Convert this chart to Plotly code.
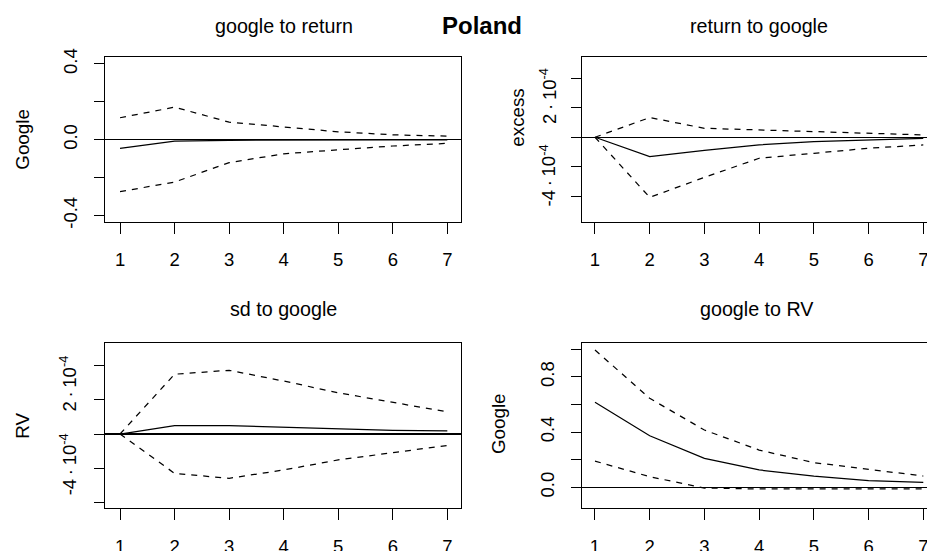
import plotly.graph_objects as go

# ---------------- data ----------------
steps = [1, 2, 3, 4, 5, 6, 7]

# panel 1: google to return (response of Google)
g2r_irf   = [-0.046, -0.007, -0.003, -0.001, 0.0, 0.0, 0.0]
g2r_upper = [0.116, 0.172, 0.093, 0.067, 0.042, 0.026, 0.019]
g2r_lower = [-0.274, -0.223, -0.121, -0.074, -0.053, -0.033, -0.019]

# panel 2: return to google (response of excess)
r2g_irf   = [0.0, -1.32e-4, -0.90e-4, -0.52e-4, -0.30e-4, -0.18e-4, -0.07e-4]
r2g_upper = [0.0, 1.34e-4, 0.61e-4, 0.50e-4, 0.39e-4, 0.23e-4, 0.16e-4]
r2g_lower = [0.0, -4.09e-4, -2.73e-4, -1.43e-4, -1.09e-4, -0.75e-4, -0.52e-4]

# panel 3: sd to google (response of RV)
sd2g_irf   = [0.0, 0.49e-4, 0.49e-4, 0.40e-4, 0.31e-4, 0.21e-4, 0.18e-4]
sd2g_upper = [0.0, 3.51e-4, 3.74e-4, 3.11e-4, 2.42e-4, 1.87e-4, 1.30e-4]
sd2g_lower = [0.0, -2.31e-4, -2.60e-4, -2.11e-4, -1.52e-4, -1.08e-4, -0.67e-4]

# panel 4: google to RV (response of Google)
g2rv_irf   = [0.616, 0.374, 0.210, 0.126, 0.082, 0.048, 0.036]
g2rv_upper = [0.995, 0.645, 0.415, 0.270, 0.179, 0.130, 0.082]
g2rv_lower = [0.190, 0.077, -0.005, -0.012, -0.012, -0.012, -0.012]

titles = ["google to return", "return to google", "sd to google", "google to RV"]
ylabels = ["Google", "excess", "RV", "Google"]
main_title = "Poland"

ytick_major_1 = [-0.4, 0.0, 0.4]
ytick_text_1 = ["-0.4", "0.0", "0.4"]
ytick_minor_1 = [-0.2, 0.2]
ytick_vals_e4 = [-4e-4, -2e-4, 0.0, 2e-4, 4e-4]
ytick_major_4 = [0.0, 0.4, 0.8]
ytick_text_4 = ["0.0", "0.4", "0.8"]
ytick_minor_4 = [0.2, 0.6, 1.0]
sci_labels = ["2\u2009·\u200910<sup>-4</sup>", "-4\u2009·\u200910<sup>-4</sup>"]

# ---------------- layout helpers ----------------
W, H = 927, 551
FONT = "Liberation Sans, Arial, sans-serif"
TICK_FS = 18.5
LAB_FS = 18.8
SUB_FS = 19.7
MAIN_FS = 24


def px_x(p):
    return p / W


def px_y(p):
    return 1 - p / H


panels = [
    (g2r_irf, g2r_upper, g2r_lower),
    (r2g_irf, r2g_upper, r2g_lower),
    (sd2g_irf, sd2g_upper, sd2g_lower),
    (g2rv_irf, g2rv_upper, g2rv_lower),
]

fig = go.Figure()
for i, (irf, up, lo) in enumerate(panels):
    ax = "" if i == 0 else str(i + 1)
    for ys, dash in ((up, "6px,6px"), (lo, "6px,6px"), (irf, "solid")):
        fig.add_trace(go.Scatter(
            x=steps, y=ys, mode="lines", xaxis="x" + ax, yaxis="y" + ax,
            line=dict(color="black", width=1.25, dash=dash),
            hoverinfo="skip", showlegend=False))

left_dom = [px_x(105.3), px_x(460.7)]
right_dom = [px_x(582.3), 1.0]
top_dom = [px_y(222.2), px_y(57.3)]
bot_dom = [px_y(508.3), px_y(342.7)]

xranges_left = [0.73, 7.245]
xranges_right = [0.768, 7.068]

common_x = dict(showline=True, linecolor="black", linewidth=1, mirror=True,
                ticks="outside", ticklen=11, tickwidth=1, tickcolor="black",
                tickmode="array", tickvals=steps, ticktext=[str(s) for s in steps],
                tickfont=dict(size=TICK_FS, color="black", family=FONT),
                showgrid=False, zeroline=False, ticklabelstandoff=10,
                ticklabeloverflow="allow", automargin=False)
common_y = dict(showline=True, linecolor="black", linewidth=1,
                ticks="outside", ticklen=10, tickwidth=1, tickcolor="black",
                tickfont=dict(size=TICK_FS, color="black", family=FONT),
                tickangle=-90, showgrid=False, zeroline=True,
                ticklabelstandoff=10, ticklabeloverflow="allow",
                zerolinecolor="black", zerolinewidth=1.3, automargin=False)
minor_style = dict(ticks="outside", ticklen=10, tickwidth=1, tickcolor="black",
                   showgrid=False, tickmode="array")

layout = dict(
    template="none",
    width=W, height=H, margin=dict(l=0, r=0, t=0, b=0, pad=0),
    paper_bgcolor="white", plot_bgcolor="white", showlegend=False,
    font=dict(family=FONT, color="black"),
    title=dict(text="<b>" + main_title + "</b>", x=px_x(482), y=px_y(25.5),
               xanchor="center", yanchor="middle",
               font=dict(size=MAIN_FS, family=FONT, color="black")),
    xaxis=dict(common_x, domain=left_dom, range=xranges_left, anchor="y"),
    xaxis2=dict(common_x, domain=right_dom, range=xranges_right, anchor="y2"),
    xaxis3=dict(common_x, domain=left_dom, range=xranges_left, anchor="y3"),
    xaxis4=dict(common_x, domain=right_dom, range=xranges_right, anchor="y4"),
    yaxis=dict(common_y, domain=top_dom, range=[-0.435, 0.435], anchor="x",
               mirror=True, tickmode="array", tickvals=ytick_major_1,
               ticktext=ytick_text_1,
               minor=dict(minor_style, tickvals=ytick_minor_1)),
    yaxis2=dict(common_y, domain=top_dom, range=[-5.78e-4, 5.44e-4], anchor="x2",
                mirror=False, tickmode="array", tickvals=ytick_vals_e4,
                showticklabels=False),
    yaxis3=dict(common_y, domain=bot_dom, range=[-4.36e-4, 5.36e-4], anchor="x3",
                mirror=True, tickmode="array", tickvals=ytick_vals_e4,
                showticklabels=False),
    yaxis4=dict(common_y, domain=bot_dom, range=[-0.152, 1.048], anchor="x4",
                mirror=False, tickmode="array", tickvals=ytick_major_4,
                ticktext=ytick_text_4,
                minor=dict(minor_style, tickvals=ytick_minor_4)),
)
fig.update_layout(**layout)

ann = []
# subplot titles
title_pos = [(283.5, 26), (758.5, 26), (283, 308.5), (757, 308.5)]
for t, (x, y) in zip(titles, title_pos):
    ann.append(dict(text=t, x=px_x(x), y=px_y(y), xref="paper", yref="paper",
                    xanchor="center", yanchor="middle", showarrow=False,
                    font=dict(size=SUB_FS, family=FONT, color="black")))
# y-axis titles
ylab_pos = [(21.7, 139), (516.7, 118), (21.7, 426), (498, 423)]
for t, (x, y) in zip(ylabels, ylab_pos):
    ann.append(dict(text=t, x=px_x(x), y=px_y(y), xref="paper", yref="paper",
                    xanchor="center", yanchor="middle", showarrow=False,
                    textangle=-90, font=dict(size=LAB_FS, family=FONT, color="black")))
# scientific tick labels of panels 2 and 3
sci_pos = [("y2", 548, [2.81e-4, -2.60e-4]), ("y3", 68.3, [2.98e-4, -1.76e-4])]
for yref, x, ys in sci_pos:
    for t, y in zip(sci_labels, ys):
        ann.append(dict(text=t, x=px_x(x), y=y, xref="paper", yref=yref,
                        xanchor="center", yanchor="middle", showarrow=False,
                        textangle=-90, font=dict(size=TICK_FS, family=FONT, color="black")))
fig.update_layout(annotations=ann)

fig.write_html(
    "out.html",
    config={"displayModeBar": False, "staticPlot": True},
    post_script="document.body.style.margin='0';document.body.style.overflow='hidden';",
)
